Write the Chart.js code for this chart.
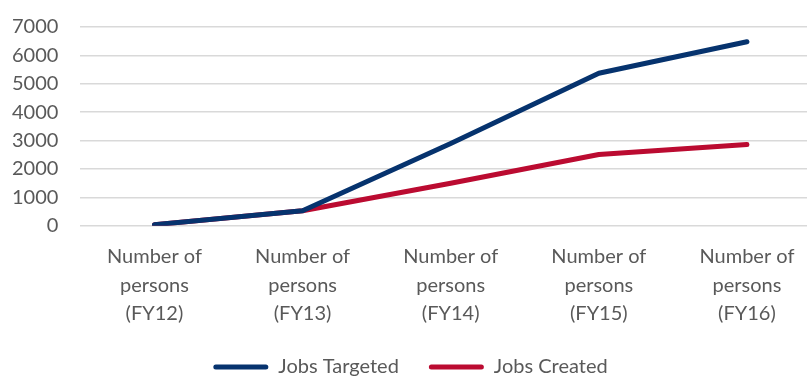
<!DOCTYPE html>
<html lang="en">
<head>
<meta charset="UTF-8">
<title>Jobs Targeted vs Created</title>
<script src="https://cdn.jsdelivr.net/npm/chart.js@4.4.0/dist/chart.umd.min.js"></script>
<style>
html,body{margin:0;padding:0;background:#fff;overflow:hidden}
#wrap{position:relative;width:846px;height:387px}
</style>
</head>
<body>
<div id="wrap"><canvas id="chart"></canvas></div>
<script>
/* ---------- data ---------- */
const categories = [
  ['Number of','persons','(FY12)'],
  ['Number of','persons','(FY13)'],
  ['Number of','persons','(FY14)'],
  ['Number of','persons','(FY15)'],
  ['Number of','persons','(FY16)']
];
const jobsTargeted = [40, 530, 2900, 5370, 6480];
const jobsCreated  = [40, 530, 1500, 2510, 2860];
const yMax = 7000, yStep = 1000;

const navy = '#06336e', red = '#bb0b31', grey = '#595959';
const fontFam = 'Lato, "Open Sans", sans-serif';

new Chart(document.getElementById('chart'),{
  type:'line',
  data:{
    labels:categories,
    datasets:[
      {label:'Jobs Targeted',data:jobsTargeted,borderColor:navy,backgroundColor:navy,
       borderWidth:5,pointRadius:0,borderCapStyle:'round',borderJoinStyle:'round',tension:0},
      {label:'Jobs Created',data:jobsCreated,borderColor:red,backgroundColor:red,
       borderWidth:5,pointRadius:0,borderCapStyle:'round',borderJoinStyle:'round',tension:0}
    ]
  },
  options:{
    responsive:true,maintainAspectRatio:false,animation:false,
    layout:{padding:{top:0,left:0,right:25,bottom:0}},
    plugins:{
      tooltip:{enabled:false},
      legend:{
        position:'bottom',
        labels:{
          font:{family:fontFam,size:20},color:grey,
          boxWidth:55,boxHeight:5,useBorderRadius:true,borderRadius:2.5,
          padding:30,
          generateLabels(chart){
            return chart.data.datasets.map((d,i)=>({
              text:d.label,fillStyle:d.borderColor,strokeStyle:d.borderColor,
              lineWidth:0,borderRadius:2.5,datasetIndex:i,fontColor:grey
            }));
          }
        }
      }
    },
    scales:{
      x:{
        offset:true,
        grid:{display:false,drawTicks:false},
        border:{display:false},
        ticks:{font:{family:fontFam,size:20,lineHeight:1.42},color:grey,padding:17,maxRotation:0,autoSkip:false},
        afterFit(scale){ scale.height -= 18; }   // pull legend up closer to the labels
      },
      y:{
        min:0,max:yMax,
        grid:{color:'#d9d9d9',lineWidth:1.5,drawTicks:false},
        border:{display:false},
        ticks:{stepSize:yStep,autoSkip:false,font:{family:fontFam,size:20},color:grey,padding:22,
               callback:v=>String(v)},
        afterFit(scale){ scale.width -= 10; scale.paddingTop = 27; }
      }
    }
  }
});
</script>
</body>
</html>
